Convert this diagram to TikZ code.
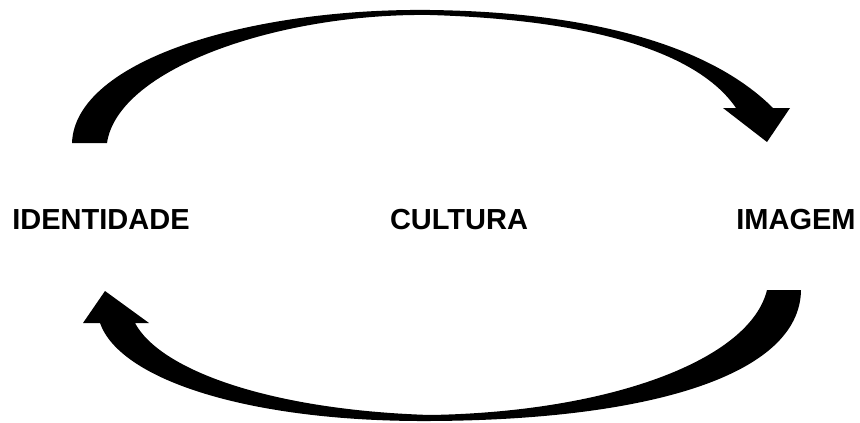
\documentclass[tikz,border=0pt]{standalone}
\usepackage{fontspec}
\setmainfont{Liberation Sans}
\usepackage{tikz}

\begin{document}
\begin{tikzpicture}[x=1pt,y=-1pt,
  rotulo/.style={anchor=base,inner sep=0pt,font=\fontsize{29}{34}\selectfont\bfseries},
  seta/.style={fill=black}]
\useasboundingbox (0,0) rectangle (860,423);
\node[rotulo] (identidade) at (101,229) {IDENTIDADE};
\node[rotulo] (cultura) at (459,229) {CULTURA};
\node[rotulo] (imagem) at (796,229) {IMAGEM};
\fill[seta] (72,143) .. controls (75,60) and (250,8) .. (430,10)
  .. controls (590,12) and (710,45) .. (773,108)
  -- (790,108) -- (767,142) -- (723,108) -- (736,108)
  .. controls (700,55) and (600,20) .. (430,15)
  .. controls (280,13) and (118,68) .. (107,143) -- cycle;
\fill[seta] (801,290) .. controls (800,375) and (650,420) .. (430,421)
  .. controls (250,422) and (120,380) .. (100,323)
  -- (83,323) -- (105,291) -- (149,323) -- (135,323)
  .. controls (160,370) and (270,410) .. (430,415)
  .. controls (610,412) and (750,360) .. (767,290) -- cycle;
\end{tikzpicture}
\end{document}
